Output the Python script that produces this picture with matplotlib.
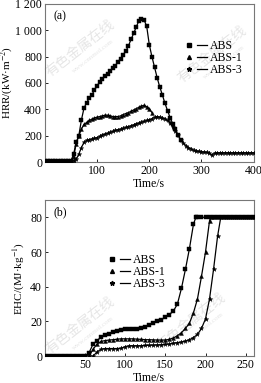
import numpy as np
import matplotlib
matplotlib.use("Agg")
import matplotlib.pyplot as plt
from matplotlib.lines import Line2D
from matplotlib.legend_handler import HandlerTuple
from matplotlib.ticker import FuncFormatter

plt.rcParams['font.family'] = ['Liberation Serif', 'DejaVu Serif']
plt.rcParams['mathtext.fontset'] = 'stix'
plt.rcParams['font.size'] = 8.5

# ---- HRR data (panel a), sampled every 5 s ----
t_abs_hrr = np.arange(0, 265, 5)
hrr_abs = [10, 10, 10, 10, 10, 10, 10, 10, 10, 10,           # 0-45
           10, 60, 150, 200, 320, 410, 450, 485, 510, 545,   # 50-95
           580, 605, 630, 650, 665, 690, 710, 730, 760, 785, # 100-145
           815, 840, 880, 930, 975, 1025, 1070, 1085, 1078, 1030,  # 150-195
           890, 800, 720, 640, 570, 510, 445, 390, 335, 290, # 200-245
           250, 205, 165]                                     # 250-260

t_abs1_hrr = np.arange(0, 210, 5)
hrr_abs1 = [10, 10, 10, 10, 10, 10, 10, 10, 10, 10,           # 0-45
            10, 40, 140, 200, 250, 285, 300, 315, 325, 335,   # 50-95
            340, 345, 350, 355, 355, 350, 345, 345, 345, 350, # 100-145
            360, 368, 375, 385, 395, 405, 415, 425, 430, 420, # 150-195
            405, 375]                                         # 200-205

t_abs3_hrr = np.arange(0, 405, 5)
hrr_abs3 = [10, 10, 10, 10, 10, 10, 10, 10, 10, 10,           # 0-45
            10, 10, 20, 60, 110, 150, 165, 170, 175, 180,     # 50-95
            185, 195, 205, 212, 218, 225, 232, 240, 245, 250, # 100-145
            255, 262, 268, 275, 282, 290, 296, 302, 308, 315, # 150-195
            320, 328, 340, 345, 340, 335, 328, 315, 295, 265, # 200-245
            235, 205, 170, 145, 125, 110, 100, 90, 85, 80,    # 250-295
            78, 76, 74, 70, 52, 68, 70, 70, 70, 70,           # 300-345
            70, 70, 70, 70, 70, 70, 70, 70, 70, 70,           # 350-395
            70]                                               # 400

# ---- EHC data (panel b) ----
t_abs_ehc = [0, 5, 10, 15, 20, 25, 30, 35, 40, 45,
             50, 55, 60, 65, 70, 75, 80, 85, 90, 95,
             100, 105, 110, 115, 120, 125, 130, 135, 140, 145,
             150, 155, 160, 165, 170, 175, 180, 185, 188, 190,
             195, 200, 205, 210, 215, 220, 225, 230, 235, 240,
             245, 250, 255, 260]
ehc_abs = [0, 0, 0, 0, 0, 0, 0, 0, 0, 0,
           0, 2, 7, 9, 11, 12, 13, 14, 14.5, 15,
           15.7, 15.8, 15.8, 15.8, 16.2, 17, 18, 19, 20, 21,
           22.5, 24, 26, 30, 39, 50, 62, 76, 80, 80,
           80, 80, 80, 80, 80, 80, 80, 80, 80, 80,
           80, 80, 80, 80]

t_abs1_ehc = [0, 5, 10, 15, 20, 25, 30, 35, 40, 45,
              50, 55, 60, 65, 70, 75, 80, 85, 90, 95,
              100, 105, 110, 115, 120, 125, 130, 135, 140, 145,
              150, 155, 160, 165, 170, 175, 180, 185, 190, 195,
              200, 205, 207, 210, 215, 220, 225, 230, 235, 240,
              245, 250, 255, 260]
ehc_abs1 = [0, 0, 0, 0, 0, 0, 0, 0, 0, 0,
            0, 0, 4, 7, 8.5, 9, 9.3, 9.5, 9.8, 10,
            10, 10, 10, 9.8, 9.7, 9.5, 9.5, 9.4, 9.3, 9.3,
            9.3, 9.7, 10.5, 11.8, 13.5, 16, 19, 25, 33, 46,
            60, 78, 80, 80, 80, 80, 80, 80, 80, 80,
            80, 80, 80, 80]

t_abs3_ehc = [0, 5, 10, 15, 20, 25, 30, 35, 40, 45,
              50, 55, 60, 65, 70, 75, 80, 85, 90, 95,
              100, 105, 110, 115, 120, 125, 130, 135, 140, 145,
              150, 155, 160, 165, 170, 175, 180, 185, 190, 195,
              200, 205, 210, 215, 219, 225, 230, 235, 240, 245,
              250, 255, 260]
ehc_abs3 = [0, 0, 0, 0, 0, 0, 0, 0, 0, 0,
            0, 0, 0, 2.5, 4, 4.4, 4.4, 4.4, 4.4, 4.6,
            5.5, 6, 6, 6, 6, 6.2, 6.3, 6.4, 6.5, 6.6,
            6.8, 7, 7.5, 7.8, 8.2, 8.7, 9.5, 10.7, 12.5, 16,
            21.5, 33, 50, 69, 80, 80, 80, 80, 80, 80,
            80, 80, 80]

labels = ['ABS', 'ABS-1', 'ABS-3']
markers = ['s', '^', '*']
msizes = [2.8, 2.8, 3.4]


def fmt_thousands(v, pos):
    v = int(round(v))
    if v >= 1000:
        return '%d %03d' % (v // 1000, v % 1000)
    return str(v)


def style_axes(ax):
    for s in ax.spines.values():
        s.set_color('#777777')
        s.set_linewidth(0.8)
    ax.tick_params(direction='in', length=2.5, width=0.6, pad=2, colors='black',
                   top=False, right=False, labelsize=8.5)


def add_legend(ax, loc):
    handles = []
    for m, ms in zip(markers, msizes):
        mk = Line2D([], [], marker=m, markersize=ms, color='black', linestyle='none')
        li = Line2D([], [], color='black', linewidth=0.9)
        handles.append((mk, li))
    ax.legend(handles, labels, handler_map={tuple: HandlerTuple(ndivide=None, pad=0.2)},
              frameon=False, loc='upper left', bbox_to_anchor=loc, handlelength=1.9,
              handletextpad=0.25, labelspacing=0.0, fontsize=8.5, borderpad=0)


def watermark(ax, x, y):
    ax.text(x, y, '有色金属在线', transform=ax.transAxes, rotation=38,
            fontsize=10, color='#e6e6e6', family=['Noto Sans CJK SC'],
            ha='center', va='center', zorder=0)
    ax.text(x + 0.06, y - 0.05, 'www.cnnmol.com', transform=ax.transAxes, rotation=38,
            fontsize=5, color='#e6e6e6', ha='center', va='center', zorder=0)


fig = plt.figure(figsize=(2.61, 3.83), dpi=100)

# ---- panel a ----
ax1 = fig.add_axes([0.172, 0.577, 0.800, 0.413])
for t, v, m, ms in zip([t_abs_hrr, t_abs1_hrr, t_abs3_hrr], [hrr_abs, hrr_abs1, hrr_abs3],
                       markers, msizes):
    ax1.plot(t, v, color='black', linewidth=0.9, marker=m, markersize=ms,
             markeredgewidth=0.3, zorder=3)
ax1.set_xlim(0, 400)
ax1.set_ylim(0, 1200)
ax1.set_xticks([100, 200, 300, 400])
ax1.set_yticks([0, 200, 400, 600, 800, 1000, 1200])
ax1.yaxis.set_major_formatter(FuncFormatter(fmt_thousands))
ax1.set_xlabel('Time/s', labelpad=1)
ax1.set_ylabel('HRR/(kW·m$^{-2}$)', labelpad=0, fontsize=8)
ax1.text(0.04, 0.92, '(a)', transform=ax1.transAxes, ha='left', va='center')
style_axes(ax1)
watermark(ax1, 0.17, 0.72)
watermark(ax1, 0.80, 0.68)
add_legend(ax1, (0.64, 0.81))

# ---- panel b ----
ax2 = fig.add_axes([0.172, 0.070, 0.800, 0.408])
for t, v, m, ms in zip([t_abs_ehc, t_abs1_ehc, t_abs3_ehc], [ehc_abs, ehc_abs1, ehc_abs3],
                       markers, msizes):
    ax2.plot(t, v, color='black', linewidth=0.9, marker=m, markersize=ms,
             markeredgewidth=0.3, zorder=3)
ax2.set_xlim(0, 260)
ax2.set_ylim(0, 90)
ax2.set_xticks([50, 100, 150, 200, 250])
ax2.set_yticks([0, 20, 40, 60, 80])
ax2.set_xlabel('Time/s', labelpad=0.5)
ax2.set_ylabel('EHC/(MJ·kg$^{-1}$)', labelpad=2, fontsize=8)
ax2.text(0.04, 0.92, '(b)', transform=ax2.transAxes, ha='left', va='center')
style_axes(ax2)
watermark(ax2, 0.17, 0.20)
watermark(ax2, 0.70, 0.22)
add_legend(ax2, (0.27, 0.69))

fig.savefig('out.png', dpi=100)
